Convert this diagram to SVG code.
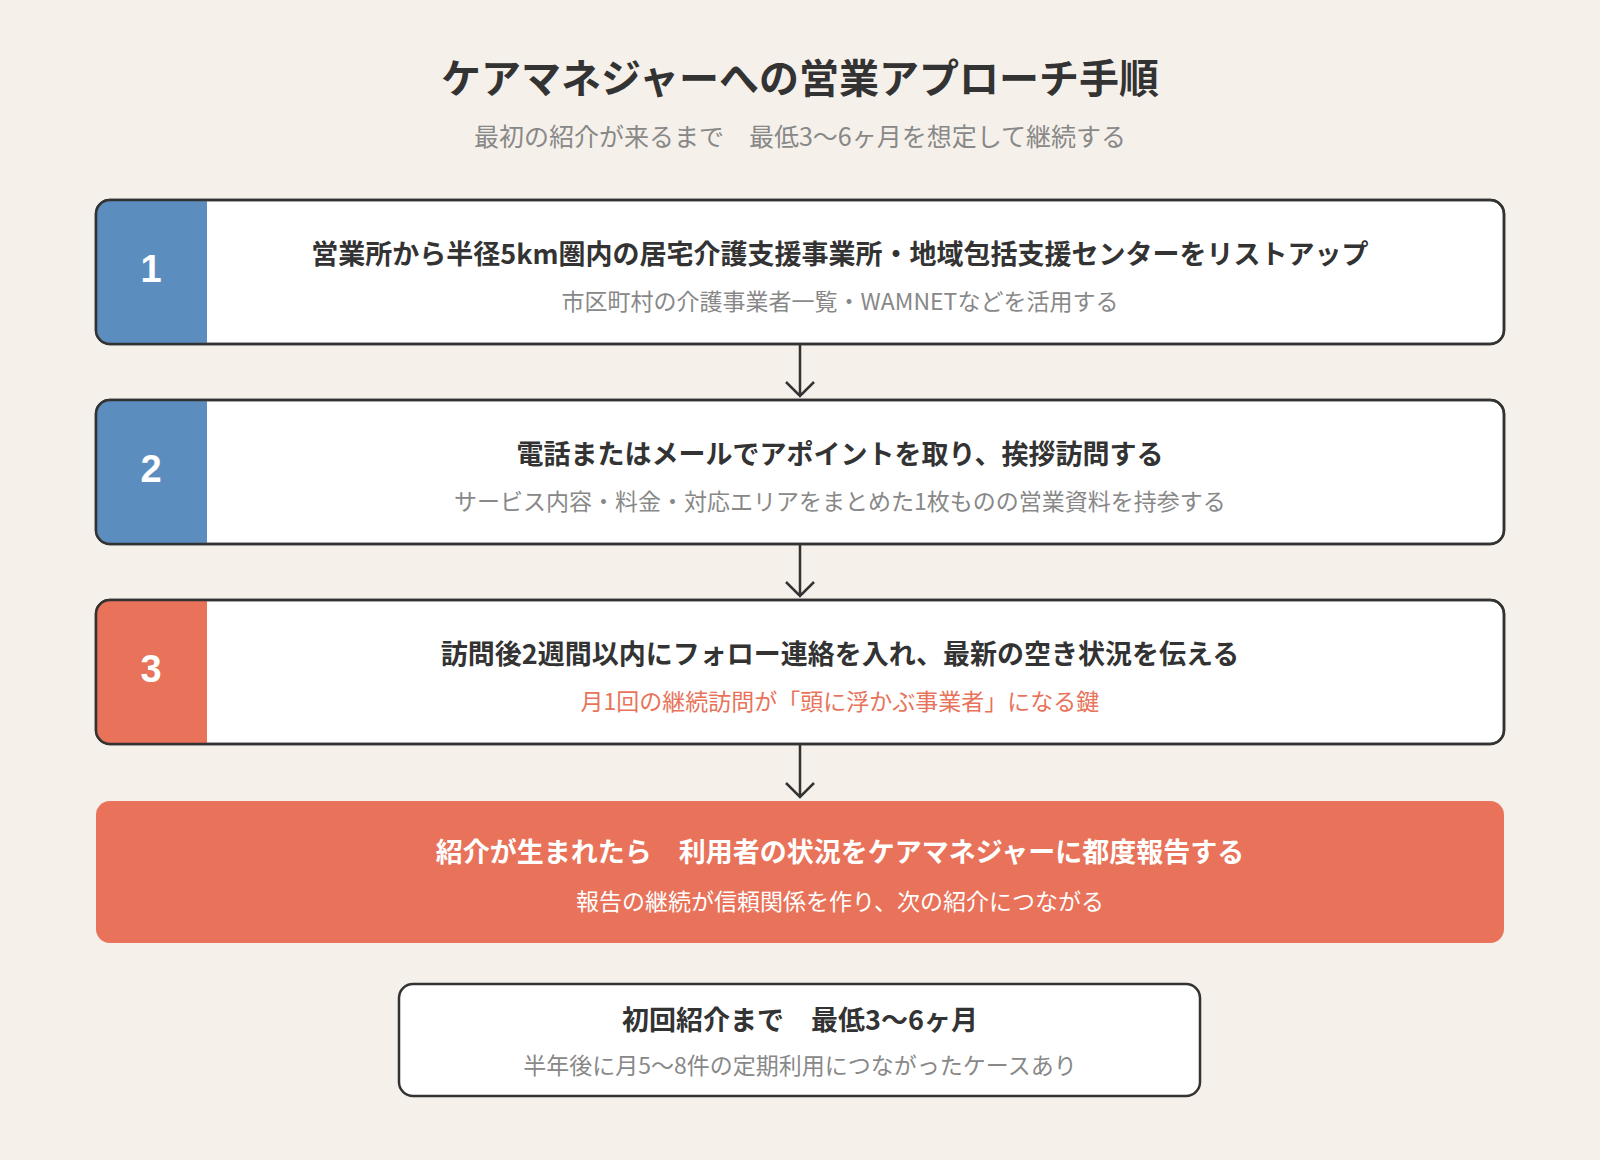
<svg xmlns="http://www.w3.org/2000/svg" width="1600" height="1160" viewBox="0 0 1600 1160">
<style>
text{font-family:"Noto Sans CJK JP","Liberation Sans",sans-serif;text-anchor:middle}
.box{fill:#fff;stroke:#333;stroke-width:2.5}
.t{font-size:27px;font-weight:bold;fill:#333}
.s{font-size:23px;fill:#888}
.n{font-size:38px;font-weight:bold;fill:#fff;font-family:"Liberation Sans",sans-serif}
.c{stroke:#333;stroke-width:2.5;fill:none}
</style>
<defs>
<clipPath id="c1"><rect x="96" y="200" width="1408" height="144" rx="14"/></clipPath>
<clipPath id="c2"><rect x="96" y="400" width="1408" height="144" rx="14"/></clipPath>
<clipPath id="c3"><rect x="96" y="600" width="1408" height="144" rx="14"/></clipPath>
</defs>
<rect width="1600" height="1160" fill="#F5F0EA"/>
<text x="800" y="93" font-size="40" font-weight="bold" fill="#333">ケアマネジャーへの営業アプローチ手順</text>
<text x="800" y="146" font-size="25" fill="#888">最初の紹介が来るまで　最低3〜6ヶ月を想定して継続する</text>
<g id="connectors">
<path class="c" d="M800 344V396M786 382L800 396L814 382"/>
<path class="c" d="M800 544V596M786 582L800 596L814 582"/>
<path class="c" d="M800 744V797M786 783L800 797L814 783"/>
</g>
<g id="step1">
<rect class="box" x="96" y="200" width="1408" height="144" rx="14"/>
<rect x="96" y="200" width="111" height="144" fill="#5B8DBE" clip-path="url(#c1)"/>
<rect class="box" x="96" y="200" width="1408" height="144" rx="14" fill="none" style="fill:none"/>
<text class="n" x="151" y="282">1</text>
<text class="t" x="840" y="264">営業所から半径5km圏内の居宅介護支援事業所・地域包括支援センターをリストアップ</text>
<text class="s" x="840" y="310">市区町村の介護事業者一覧・WAMNETなどを活用する</text>
</g>
<g id="step2">
<rect class="box" x="96" y="400" width="1408" height="144" rx="14"/>
<rect x="96" y="400" width="111" height="144" fill="#5B8DBE" clip-path="url(#c2)"/>
<rect class="box" x="96" y="400" width="1408" height="144" rx="14" style="fill:none"/>
<text class="n" x="151" y="482">2</text>
<text class="t" x="840" y="464">電話またはメールでアポイントを取り、挨拶訪問する</text>
<text class="s" x="840" y="510">サービス内容・料金・対応エリアをまとめた1枚ものの営業資料を持参する</text>
</g>
<g id="step3">
<rect class="box" x="96" y="600" width="1408" height="144" rx="14"/>
<rect x="96" y="600" width="111" height="144" fill="#E8735A" clip-path="url(#c3)"/>
<rect class="box" x="96" y="600" width="1408" height="144" rx="14" style="fill:none"/>
<text class="n" x="151" y="682">3</text>
<text class="t" x="840" y="664">訪問後2週間以内にフォロー連絡を入れ、最新の空き状況を伝える</text>
<text class="s" x="840" y="710" fill="#E8735A" style="fill:#E8735A">月1回の継続訪問が「頭に浮かぶ事業者」になる鍵</text>
</g>
<g id="step4">
<rect x="96" y="801" width="1408" height="142" rx="14" fill="#E8735A"/>
<text class="t" x="840" y="862" style="fill:#fff">紹介が生まれたら　利用者の状況をケアマネジャーに都度報告する</text>
<text class="s" x="840" y="910" style="fill:#fff">報告の継続が信頼関係を作り、次の紹介につながる</text>
</g>
<g id="summary">
<rect class="box" x="399" y="984" width="801" height="112" rx="14"/>
<text class="t" x="800" y="1030">初回紹介まで　最低3〜6ヶ月</text>
<text class="s" x="800" y="1074">半年後に月5〜8件の定期利用につながったケースあり</text>
</g>
</svg>
